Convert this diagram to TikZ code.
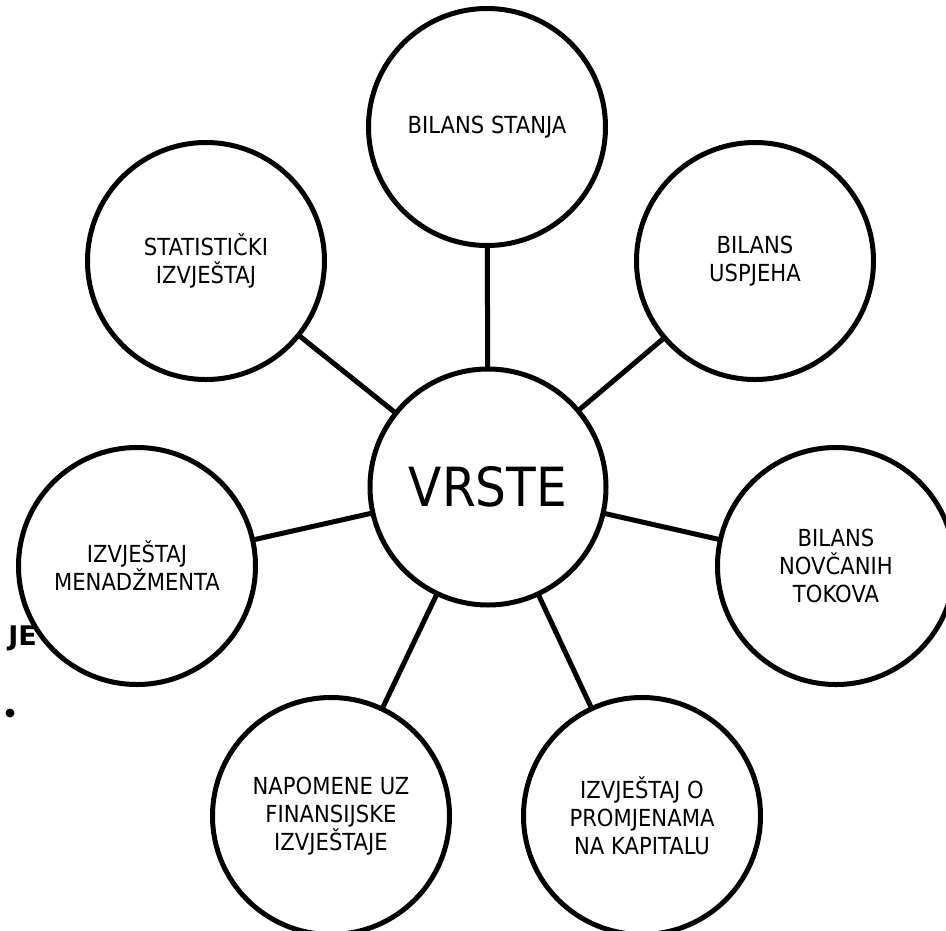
\documentclass[tikz,border=0pt]{standalone}
\usepackage{fontspec}
\setmainfont[FakeStretch=0.9]{DejaVu Sans}
\newfontfamily\boldsans{DejaVu Sans Bold}
\pgfdeclarelayer{background}
\pgfsetlayers{background,main}
\tikzset{
  leaf/.style={circle, draw=black, line width=5pt, fill=white, minimum size=237pt, inner sep=0pt, align=center, font=\fontsize{23.5}{28}\selectfont},
  hub/.style={circle, draw=black, line width=5pt, fill=white, minimum size=236pt, inner sep=0pt, font=\fontsize{54}{60}\selectfont},
  link/.style={draw=black, line width=5pt}
}
\begin{document}
\begin{tikzpicture}[x=1pt,y=-1pt]
\useasboundingbox (0,0) rectangle (946,930);
\clip (0,0) rectangle (946,930);
\node[anchor=base east, inner sep=0pt, font=\boldsans\fontsize{27}{30}\selectfont] (je) at (37,645) {JE};
\fill[black] (10,713) circle (4.5pt);
\node[hub] (c) at (488,487) {VRSTE};
\node[leaf] (n1) at (487,127) {BILANS STANJA};
\node[leaf] (n2) at (755,261) {BILANS\\USPJEHA};
\node[leaf] (n3) at (836,566) {BILANS\\NOVČANIH\\TOKOVA};
\node[leaf] (n4) at (642,816) {IZVJEŠTAJ O\\PROMJENAMA\\NA KAPITALU};
\node[leaf] (n5) at (331,816) {NAPOMENE UZ\\FINANSIJSKE\\IZVJEŠTAJE};
\node[leaf] (n6) at (137,566) {IZVJEŠTAJ\\MENADŽMENTA};
\node[leaf] (n7) at (206,261) {STATISTIČKI\\IZVJEŠTAJ};
\begin{pgfonlayer}{background}
\foreach \n in {n1,n2,n3,n4,n5,n6,n7} {\draw[link] (c.center) -- (\n.center);}
\end{pgfonlayer}
\end{tikzpicture}
\end{document}
